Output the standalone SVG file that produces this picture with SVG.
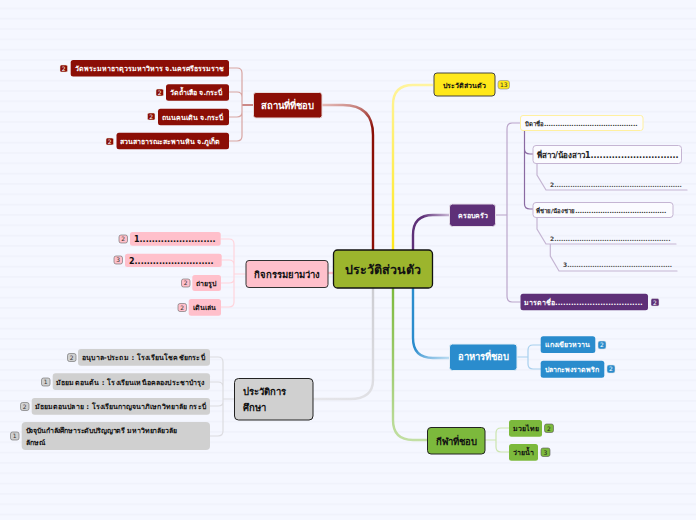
<svg xmlns="http://www.w3.org/2000/svg" width="696" height="520" viewBox="0 0 696 520">
<style>
text{font-family:"DejaVu Sans","Noto Sans","Liberation Sans",sans-serif;font-weight:700}
.c{fill:none;stroke-width:1.2;stroke-linecap:round}
.t{fill:none;stroke-width:2.4}
.s{font-size:7px}
.l{font-size:9.5px}
.n{font-size:6px;font-weight:400;text-anchor:middle}
</style>
<defs>
<pattern id="bg" width="696" height="10.33" patternUnits="userSpaceOnUse"><rect width="696" height="10.33" fill="#f5f7ff"/><rect y="8" width="696" height=".8" fill="#eceef8"/></pattern>
<linearGradient id="gr" gradientUnits="userSpaceOnUse" x1="373" y1="250" x2="322" y2="105"><stop offset="0" stop-color="#8b0e06"/><stop offset=".75" stop-color="#8b0e06"/><stop offset="1" stop-color="#e5bcb9"/></linearGradient>
<linearGradient id="gy" gradientUnits="userSpaceOnUse" x1="393" y1="250" x2="433" y2="85"><stop offset="0" stop-color="#ffe81a"/><stop offset="1" stop-color="#fff4a0"/></linearGradient>
<linearGradient id="gp" gradientUnits="userSpaceOnUse" x1="413" y1="250" x2="449" y2="215"><stop offset="0" stop-color="#5e3078"/><stop offset=".6" stop-color="#5e3078"/><stop offset="1" stop-color="#c8b6d4"/></linearGradient>
<linearGradient id="gb" gradientUnits="userSpaceOnUse" x1="413" y1="288" x2="449" y2="358"><stop offset="0" stop-color="#2a8ccd"/><stop offset=".7" stop-color="#2a8ccd"/><stop offset="1" stop-color="#bcdcf2"/></linearGradient>
<linearGradient id="gg" gradientUnits="userSpaceOnUse" x1="393" y1="288" x2="427" y2="440"><stop offset="0" stop-color="#7cb93c"/><stop offset="1" stop-color="#c4e0a6"/></linearGradient>
<linearGradient id="ga" gradientUnits="userSpaceOnUse" x1="373" y1="288" x2="313" y2="399"><stop offset="0" stop-color="#cdcdd2"/><stop offset="1" stop-color="#e6e6ea"/></linearGradient>
</defs>
<rect width="696" height="520" fill="url(#bg)"/>
<g id="connectors">
<path class="t" stroke="url(#gr)" d="M373 250V135Q373 105 343 105H322"/>
<path class="t" stroke="url(#gy)" d="M393 250V105Q393 85 413 85H433"/>
<path class="t" stroke="url(#gp)" d="M413 250V235Q413 215 433 215H449"/>
<path class="t" stroke="url(#gb)" d="M413 288V338Q413 358 433 358H449"/>
<path class="t" stroke="url(#gg)" d="M393 288V420Q393 440 413 440H427"/>
<path class="t" stroke="url(#ga)" d="M373 288V380Q373 399 350 399H313"/>
<path stroke="#ffc0cb" stroke-width="2.4" d="M333 273H328"/>
<path stroke="#b95a55" stroke-width="1.4" d="M253 105H242"/>
<path class="c" stroke="#d8a5a2" d="M242 105V73Q242 68 237 68H229M242 105V97Q242 92 237 92H229M242 105V112Q242 117 237 117H229M242 105V136Q242 141 237 141H229"/>
<path class="c" stroke="#ffd4dc" d="M245 274H234M234 274V244Q234 239 229 239H221M234 274V265Q234 260 229 260H222M234 274V279Q234 283 229 283H221M234 274V302Q234 307 229 307H221"/>
<path class="c" stroke="#dcdce0" d="M234 399H223M223 399V362Q223 357 218 357H210M223 399V387Q223 382 218 382H210M223 399V402Q223 406 218 406H210M223 399V431Q223 436 218 436H210"/>
<path class="c" stroke="#bba6cb" d="M496 215H507M507 215V129Q507 123 512 123H520M507 215V296Q507 302 512 302H520"/>
<path class="c" stroke="#8a6aa2" d="M524.500 131V149Q524.500 154 530 154H533M524.500 131V204Q524.500 209 530 209H533"/>
<path class="c" stroke="#c5b5d3" d="M537 164V175L546 190H687M537 217V229L546 244H676M550.300 244V256L559 271H677"/>
<path class="c" stroke="#a8d0ee" d="M517 357H528M528 357V350Q528 345 533 345H541M528 357V364Q528 369 533 369H541"/>
<path class="c" stroke="#cbe5ae" d="M485 440H496M496 440V433Q496 428 501 428H509M496 440V447Q496 452 501 452H509"/>
</g>
<g id="center"><rect x="333.500" y="250" width="99" height="38" rx="4" fill="#9cb52d" stroke="#111" stroke-width="1.300"/><text x="383" y="274" font-size="12.500" text-anchor="middle" fill="#111">ประวัติส่วนตัว</text></g>
<g id="n-place"><rect x="253.500" y="92.500" width="68.500" height="25.500" rx="2.500" fill="#8b0e06" stroke="#e8dcdc"/><text x="287.500" y="108.500" class="l" text-anchor="middle" fill="#fff">สถานที่ที่ชอบ</text></g>
<g id="p1"><rect x="70.700" y="60" width="158.300" height="16.500" rx="2.500" fill="#8b0e06"/><text x="75" y="71" class="s" fill="#fff">วัดพระมหาธาตุวรมหาวิหาร จ.นครศรีธรรมราช</text><rect x="60" y="65" width="7.500" height="7" rx="1.500" fill="#8b0e06" stroke="#eed" stroke-width=".5"/><text x="63.700" y="71" class="n" fill="#fff">2</text></g>
<g id="p2"><rect x="166" y="84.300" width="63" height="16.500" rx="2.500" fill="#8b0e06"/><text x="170" y="95" class="s" fill="#fff">วัดถ้ำเสือ จ.กระบี่</text><rect x="156" y="89" width="7.500" height="7" rx="1.500" fill="#8b0e06" stroke="#eed" stroke-width=".5"/><text x="159.700" y="95" class="n" fill="#fff">2</text></g>
<g id="p3"><rect x="158" y="108.700" width="71" height="16.500" rx="2.500" fill="#8b0e06"/><text x="162" y="120" class="s" fill="#fff">ถนนคนเดิน จ.กระบี่</text><rect x="147.500" y="113" width="7.500" height="7" rx="1.500" fill="#8b0e06" stroke="#eed" stroke-width=".5"/><text x="151.200" y="119" class="n" fill="#fff">2</text></g>
<g id="p4"><rect x="116.500" y="132.700" width="112.500" height="16.500" rx="2.500" fill="#8b0e06"/><text x="120" y="144" class="s" fill="#fff">สวนสาธารณะสะพานหิน จ.ภูเก็ต</text><rect x="106" y="138" width="7.500" height="7" rx="1.500" fill="#8b0e06" stroke="#eed" stroke-width=".5"/><text x="109.700" y="144" class="n" fill="#fff">2</text></g>
<g id="n-hobby"><rect x="246" y="260.500" width="82" height="27" rx="3" fill="#ffc0cb" stroke="#333"/><text x="287" y="278" class="l" text-anchor="middle" fill="#111">กิจกรรมยามว่าง</text></g>
<g id="h1"><rect x="130" y="232" width="90.700" height="13.700" rx="2.500" fill="#ffc0cb"/><text x="134" y="242" font-size="8" fill="#111">1.........................</text><rect x="119" y="235" width="8.500" height="8" rx="2" fill="#ffc0cb" stroke="#666" stroke-width=".6"/><text x="123.200" y="241" class="n" fill="#333">2</text></g>
<g id="h2"><rect x="125" y="253.700" width="96.700" height="13.300" rx="2.500" fill="#ffc0cb"/><text x="129" y="263.500" font-size="8" fill="#111">2..........................</text><rect x="114" y="256" width="8.500" height="8" rx="2" fill="#ffc0cb" stroke="#666" stroke-width=".6"/><text x="118.200" y="262" class="n" fill="#333">3</text></g>
<g id="h3"><rect x="192.300" y="275" width="28.700" height="16" rx="2.500" fill="#ffc0cb"/><text x="196" y="286" class="s" fill="#111">ถ่ายรูป</text><rect x="181.500" y="279" width="8.500" height="8" rx="2" fill="#ffc0cb" stroke="#666" stroke-width=".6"/><text x="185.700" y="285" class="n" fill="#333">2</text></g>
<g id="h4"><rect x="188.700" y="299" width="32.300" height="16.700" rx="2.500" fill="#ffc0cb"/><text x="192.500" y="310" class="s" fill="#111">เดินเล่น</text><rect x="178" y="303.500" width="8.500" height="8" rx="2" fill="#ffc0cb" stroke="#666" stroke-width=".6"/><text x="182.200" y="309.500" class="n" fill="#333">2</text></g>
<g id="n-edu"><rect x="234.500" y="378.500" width="78.500" height="41.500" rx="4" fill="#d0d0d0" stroke="#222"/><text x="243" y="395" class="l" fill="#111">ประวัติการ</text><text x="243" y="411" class="l" fill="#111">ศึกษา</text></g>
<g id="e1"><rect x="78" y="349" width="132" height="16.700" rx="3" fill="#d0d0d0"/><text x="82" y="360" class="s" letter-spacing=".17" fill="#111">อนุบาล-ประถม : โรงเรียนโชคชัยกระบี่</text><rect x="67.500" y="353.500" width="8.500" height="8" rx="2" fill="#d0d0d0" stroke="#666" stroke-width=".6"/><text x="71.700" y="359.500" class="n" fill="#333">2</text></g>
<g id="e2"><rect x="52.700" y="373.300" width="157.300" height="16.700" rx="3" fill="#d0d0d0"/><text x="56" y="384.500" class="s" letter-spacing=".14" fill="#111">มัธยมตอนต้น : โรงเรียนเหนือคลองประชาบำรุง</text><rect x="41.500" y="378" width="8.500" height="8" rx="2" fill="#d0d0d0" stroke="#666" stroke-width=".6"/><text x="45.700" y="384" class="n" fill="#333">1</text></g>
<g id="e3"><rect x="31.700" y="398" width="178.300" height="16.700" rx="3" fill="#d0d0d0"/><text x="35" y="409" class="s" letter-spacing=".06" fill="#111">มัธยมตอนปลาย : โรงเรียนกาญจนาภิเษกวิทยาลัย กระบี่</text><rect x="20.500" y="402.500" width="8.500" height="8" rx="2" fill="#d0d0d0" stroke="#666" stroke-width=".6"/><text x="24.700" y="408.500" class="n" fill="#333">2</text></g>
<g id="e4"><rect x="21.700" y="422" width="188.300" height="28" rx="4" fill="#d0d0d0"/><text x="25.500" y="433" class="s" letter-spacing="-.15" fill="#111">ปัจจุบันกำลังศึกษาระดับปริญญาตรี มหาวิทยาลัยวลัย</text><text x="25.500" y="444.500" class="s" fill="#111">ลักษณ์</text><rect x="10.500" y="432" width="8.500" height="8" rx="2" fill="#d0d0d0" stroke="#666" stroke-width=".6"/><text x="14.700" y="438" class="n" fill="#333">1</text></g>
<g id="n-personal"><rect x="434" y="73" width="61" height="23" rx="3" fill="#ffe81a" stroke="#444"/><text x="464.500" y="88" class="s" text-anchor="middle" fill="#111">ประวัติส่วนตัว</text><rect x="498" y="80.500" width="11.500" height="8.500" rx="2.500" fill="#ffe81a" stroke="#888" stroke-width=".6"/><text x="503.700" y="87" class="n" fill="#333">13</text></g>
<g id="n-family"><rect x="449.500" y="204" width="46" height="22.500" rx="3" fill="#5e3078" stroke="#e6e0ea"/><text x="472.500" y="218" class="s" text-anchor="middle" fill="#fff">ครอบครัว</text></g>
<g id="f1"><rect x="520.500" y="115.500" width="122.500" height="15" rx="2.500" fill="#fbfbff" stroke="#fff0a0"/><text x="525" y="126" font-size="6" fill="#222">บิดาชื่อ.........................................</text></g>
<g id="f2"><rect x="533" y="145.500" width="148.500" height="18" rx="3" fill="#fbfbff" stroke="#c5b5d3"/><text x="537" y="158" font-size="8" fill="#222">พี่สาว/น้องสาว1.............................</text></g>
<g id="f3"><text x="550" y="187" font-size="6" font-weight="400" fill="#444">2........................................................</text></g>
<g id="f4"><rect x="533" y="202.500" width="140" height="15" rx="3" fill="#fbfbff" stroke="#c5b5d3"/><text x="536" y="213" font-size="6" fill="#222">พี่ชาย/น้องชาย........................................</text></g>
<g id="f5"><text x="550" y="241" font-size="6" font-weight="400" fill="#444">2...................................................</text></g>
<g id="f6"><text x="563" y="267" font-size="6" font-weight="400" fill="#444">3..............................................</text></g>
<g id="f7"><rect x="520.500" y="293.700" width="127.500" height="16.600" rx="2.500" fill="#5e3078"/><text x="524" y="305" class="s" fill="#fff">มารดาชื่อ.................................</text><rect x="651" y="298.500" width="8" height="7.500" rx="1.500" fill="#5e3078" stroke="#ddd" stroke-width=".5"/><text x="655" y="304.500" class="n" fill="#fff">2</text></g>
<g id="n-food"><rect x="449.500" y="344" width="67.500" height="26.500" rx="3" fill="#2a8ccd" stroke="#e4eef6"/><text x="483" y="360" class="l" text-anchor="middle" fill="#fff">อาหารที่ชอบ</text></g>
<g id="d1"><rect x="540.700" y="336.300" width="54.600" height="16.700" rx="2.500" fill="#2a8ccd"/><text x="545" y="347" class="s" fill="#fff">แกงเขียวหวาน</text><rect x="598" y="341" width="8" height="8" rx="2" fill="#2a8ccd" stroke="#ddd" stroke-width=".5"/><text x="602" y="347" class="n" fill="#fff">2</text></g>
<g id="d2"><rect x="540.700" y="360.700" width="63.600" height="17" rx="2.500" fill="#2a8ccd"/><text x="545" y="372" class="s" fill="#fff">ปลากะพงราดพริก</text><rect x="607" y="365" width="8" height="8" rx="2" fill="#2a8ccd" stroke="#ddd" stroke-width=".5"/><text x="611" y="371" class="n" fill="#fff">2</text></g>
<g id="n-sport"><rect x="427.500" y="427.500" width="57.500" height="26.500" rx="3.500" fill="#7cb93c" stroke="#222"/><text x="456" y="444.500" class="l" text-anchor="middle" fill="#111">กีฬาที่ชอบ</text></g>
<g id="s1"><rect x="509" y="420" width="33" height="16.700" rx="2.500" fill="#7cb93c"/><text x="513" y="431" class="s" fill="#111">มวยไทย</text><rect x="544.500" y="424" width="9" height="8.500" rx="2" fill="#7cb93c" stroke="#555" stroke-width=".6"/><text x="549" y="430.500" class="n" fill="#222">2</text></g>
<g id="s2"><rect x="509" y="444" width="29" height="16.700" rx="2.500" fill="#7cb93c"/><text x="513" y="455" class="s" fill="#111">ว่ายน้ำ</text><rect x="541" y="448" width="9" height="8.500" rx="2" fill="#7cb93c" stroke="#555" stroke-width=".6"/><text x="545.500" y="454.500" class="n" fill="#222">3</text></g>
</svg>
